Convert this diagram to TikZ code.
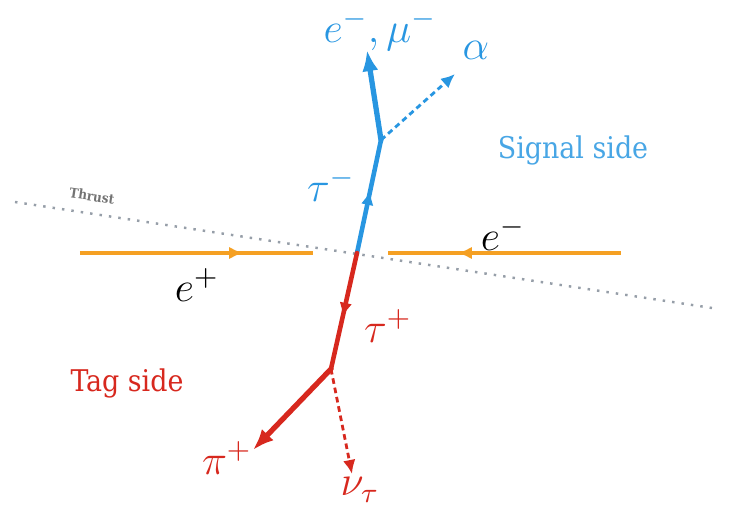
\documentclass[tikz,border=0pt]{standalone}
\usepackage{fontspec}
\newfontfamily\slabfont{DejaVu Serif Condensed}
\usetikzlibrary{arrows.meta,decorations.markings}

\definecolor{sigblue}{RGB}{40,150,225}
\definecolor{tagred}{RGB}{215,40,30}
\definecolor{beamorange}{RGB}{245,160,35}
\definecolor{thrustgray}{RGB}{150,158,168}

\tikzstyle{beam} = [beamorange, line width=0.95pt, postaction={decorate}, decoration={markings, mark=at position 0.7 with {\arrow{Latex[length=4pt,width=3.6pt]}}}]
\tikzstyle{tau} = [line width=1.3pt, line cap=round, postaction={decorate}, decoration={markings, mark=at position 0.55 with {\arrow{Latex[length=4pt,width=3.6pt]}}}]
\tikzstyle{prod} = [line width=1.5pt, line cap=round, -{Latex[length=6pt,width=4.6pt]}]
\tikzstyle{invis} = [line width=0.8pt, dash pattern=on 1.6pt off 1.1pt, -{Latex[length=4pt,width=3.6pt]}]
\tikzstyle{lab} = [font=\fontsize{11.5}{14}\selectfont, inner sep=0pt]
\tikzstyle{side} = [font=\slabfont\fontsize{8.5}{10}\selectfont, inner sep=0pt]

\begin{document}
\begin{tikzpicture}[x=0.01cm, y=-0.01cm]
\useasboundingbox (0,0) rectangle (729,509);
% points of the event
\coordinate (ip) at (357,253);
\coordinate (thA) at (15,202);
\coordinate (thB) at (712,308);
\coordinate (epA) at (80,253);
\coordinate (epB) at (313,253);
\coordinate (emA) at (621,253);
\coordinate (emB) at (388,253);
\coordinate (sigkink) at (381,140);
\coordinate (lep) at (367,50);
\coordinate (alph) at (455,74);
\coordinate (tagkink) at (331,369);
\coordinate (pion) at (253,450);
\coordinate (nu) at (352,474);

% thrust axis
\draw[thrustgray, line width=0.7pt, dotted] (thA) -- (thB);
\node[rotate=-8.6, text=gray!90!black, font=\slabfont\bfseries\fontsize{3.8}{4}\selectfont] (thrust) at (92,196) {Thrust};

% beams
\draw[beam] (epA) -- (epB);
\draw[beam] (emA) -- (emB);
\node[lab] (eplus) at (197,285) {$e^+$};
\node[lab] (eminus) at (503,234) {$e^-$};

% signal side
\draw[tau, sigblue] (ip) -- (sigkink);
\draw[prod, sigblue] (sigkink) -- (lep);
\draw[invis, sigblue] (sigkink) -- (alph);
\node[lab, text=sigblue] (taum) at (331,185) {$\tau^-$};
\node[lab, text=sigblue] (leptons) at (380,30) {$e^-,\mu^-$};
\node[lab, text=sigblue] (alpha) at (476,50) {$\alpha$};
\node[side, text=sigblue!85] (signal) at (573,150) {Signal side};

% tag side
\draw[tau, tagred] (ip) -- (tagkink);
\draw[prod, tagred] (tagkink) -- (pion);
\draw[invis, tagred] (tagkink) -- (nu);
\node[lab, text=tagred] (taup) at (388,326) {$\tau^+$};
\node[lab, text=tagred] (pip) at (227,458) {$\pi^+$};
\node[lab, text=tagred] (nutau) at (360,490) {$\nu_\tau$};
\node[side, text=tagred] (tag) at (127,383) {Tag side};
\end{tikzpicture}
\end{document}
